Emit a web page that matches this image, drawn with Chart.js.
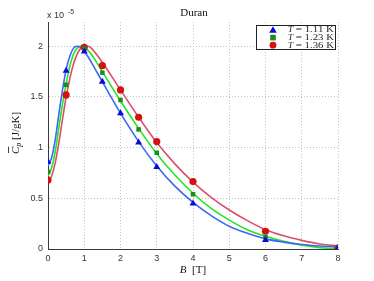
<!DOCTYPE html>
<html>
<head>
<meta charset="utf-8">
<script src="https://cdn.jsdelivr.net/npm/chart.js@4"></script>
<style>
  html, body { margin: 0; padding: 0; background: #fff; }
  #wrap { width: 374px; height: 281px; position: relative; }
</style>
</head>
<body>
<div id="wrap"><canvas id="chart"></canvas></div>
<script>
// fitted curves
const fitB = [0, 0.1, 0.2, 0.3, 0.4, 0.5, 0.6, 0.7, 0.8, 0.9, 1.0, 1.1, 1.2, 1.5, 2, 2.5, 3, 3.5, 4, 4.5, 5, 5.5, 6, 6.5, 7, 7.5, 8]
const fit111 = [0.82, 0.90, 1.08, 1.33, 1.57, 1.77, 1.90, 1.98, 2.00, 1.99, 1.95, 1.90, 1.84, 1.65, 1.34, 1.06, 0.82, 0.62, 0.46, 0.33, 0.225, 0.155, 0.10, 0.068, 0.045, 0.03, 0.02]
const fit123 = [0.72, 0.80, 0.96, 1.20, 1.43, 1.63, 1.80, 1.92, 1.98, 2.00, 1.99, 1.96, 1.92, 1.75, 1.46, 1.19, 0.94, 0.73, 0.55, 0.40, 0.285, 0.19, 0.125, 0.075, 0.038, 0.014, 0.002]
const fit136 = [0.66, 0.72, 0.85, 1.05, 1.28, 1.50, 1.68, 1.82, 1.92, 1.98, 2.00, 2.00, 1.98, 1.84, 1.57, 1.30, 1.05, 0.84, 0.66, 0.51, 0.385, 0.28, 0.19, 0.13, 0.085, 0.05, 0.03]

// measured points
const measB = [0, 0.5, 1, 1.5, 2, 2.5, 3, 4, 6, 8]
const meas111 = [0.86, 1.76, 1.95, 1.65, 1.34, 1.05, 0.81, 0.45, 0.09, 0.01]
const meas123 = [0.76, 1.62, 1.98, 1.74, 1.47, 1.18, 0.95, 0.54, 0.12, 0.005]
const meas136 = [0.68, 1.52, 1.99, 1.81, 1.57, 1.30, 1.06, 0.665, 0.175, 0.01]

const xTicks = [0, 1, 2, 3, 4, 5, 6, 7, 8]
const yTicks = [0, 0.5, 1, 1.5, 2]
const legendLabels = ["1.11", "1.23", "1.36"]

const pts = (xs, ys) => xs.map((x, i) => ({ x: x, y: ys[i] }))

const serif = "'Liberation Serif', 'DejaVu Serif', serif"
const sans = "'Liberation Sans', Arial, sans-serif"

const markers = [
  { style: "triangle", color: "#0a0ae0", radius: 4 },
  { style: "rect", color: "#1c8c1c", radius: 3.2 },
  { style: "circle", color: "#d61010", radius: 3.6 }
]

const decorations = {
  id: "decorations",
  afterDraw(chart) {
    const ctx = chart.ctx
    ctx.save()
    ctx.fillStyle = "#111"

    // title
    ctx.font = "11px " + serif
    ctx.textAlign = "center"
    ctx.textBaseline = "middle"
    ctx.fillText("Duran", 194, 13)

    // exponent
    ctx.fillStyle = "#333"
    ctx.font = "9px " + sans
    ctx.textAlign = "left"
    ctx.fillText("x 10", 47, 16)
    ctx.font = "7px " + sans
    ctx.fillText("-5", 68, 12)

    // x label
    ctx.fillStyle = "#111"
    ctx.font = "italic 11px " + serif
    const w1 = ctx.measureText("B").width
    ctx.font = "11px " + serif
    const w2 = ctx.measureText("  [T]").width
    const x0 = 193 - (w1 + w2) / 2
    ctx.font = "italic 11px " + serif
    ctx.fillText("B", x0, 270)
    ctx.font = "11px " + serif
    ctx.fillText("  [T]", x0 + w1, 270)

    // y label
    ctx.translate(16, 133)
    ctx.rotate(-Math.PI / 2)
    ctx.font = "italic 11px " + serif
    const wc = ctx.measureText("C").width
    ctx.font = "italic 8px " + serif
    const wp = ctx.measureText("p").width
    ctx.font = "11px " + serif
    const wr = ctx.measureText(" [J/gK]").width
    const sx = -(wc + wp + wr) / 2
    ctx.font = "italic 11px " + serif
    ctx.fillText("C", sx, 0)
    ctx.fillRect(sx + 1, -8, wc - 1, 0.8)
    ctx.font = "italic 8px " + serif
    ctx.fillText("p", sx + wc, 3)
    ctx.font = "11px " + serif
    ctx.fillText(" [J/gK]", sx + wc + wp, 0)
    ctx.restore()

    // legend box
    ctx.save()
    const bx = 256, by = 25.5, bw = 79, bh = 24
    ctx.fillStyle = "#fff"
    ctx.fillRect(bx, by, bw, bh)
    ctx.strokeStyle = "#222"
    ctx.lineWidth = 1
    ctx.strokeRect(bx + 0.5, by, bw, bh)
    legendLabels.forEach((t, i) => {
      const y = by + 4.5 + i * 7.6
      const m = markers[i]
      const mx = 273
      ctx.fillStyle = m.color
      ctx.beginPath()
      if (m.style === "triangle") {
        ctx.moveTo(mx, y - 3.8)
        ctx.lineTo(mx + 3.8, y + 2.8)
        ctx.lineTo(mx - 3.8, y + 2.8)
        ctx.closePath()
      } else if (m.style === "rect") {
        ctx.rect(mx - 2.8, y - 2.8, 5.6, 5.6)
      } else {
        ctx.arc(mx, y, 3.4, 0, Math.PI * 2)
      }
      ctx.fill()

      ctx.fillStyle = "#222"
      ctx.textBaseline = "middle"
      ctx.textAlign = "left"
      ctx.font = "italic 9px " + serif
      ctx.fillText("T", 288, y)
      const wt = ctx.measureText("T").width
      ctx.font = "9px " + serif
      const rest = " = " + t + " K"
      const wRest = ctx.measureText(rest).width
      const target = 334 - 288 - wt
      ctx.save()
      ctx.translate(288 + wt, y)
      ctx.scale(target / wRest, 1)
      ctx.fillText(rest, 0, 0)
      ctx.restore()
    })
    ctx.restore()
  }
}

const fitColors = ["#3d68f5", "#22e622", "#d9506b"]
const fits = [fit111, fit123, fit136]
const meas = [meas111, meas123, meas136]

const datasets = []
fits.forEach((f, i) => {
  datasets.push({
    type: "line",
    label: "fit " + legendLabels[i],
    data: pts(fitB, f),
    borderColor: fitColors[i],
    borderWidth: 1.6,
    pointRadius: 0,
    cubicInterpolationMode: "monotone",
    fill: false,
    order: 2
  })
})
meas.forEach((m, i) => {
  datasets.push({
    type: "scatter",
    label: "T = " + legendLabels[i] + " K",
    data: pts(measB, m),
    pointStyle: markers[i].style,
    pointRadius: markers[i].radius,
    backgroundColor: markers[i].color,
    borderColor: markers[i].color,
    borderWidth: 0,
    showLine: false,
    order: 1
  })
})

new Chart(document.getElementById("chart"), {
  type: "scatter",
  data: { datasets: datasets },
  options: {
    responsive: true,
    maintainAspectRatio: false,
    animation: false,
    layout: { padding: { top: 22, right: 36, left: 0, bottom: 0 } },
    plugins: {
      legend: { display: false },
      tooltip: { enabled: false },
      title: { display: false }
    },
    scales: {
      x: {
        type: "linear",
        min: 0,
        max: 8,
        afterFit: s => { s.height = 32 },
        afterBuildTicks: s => { s.ticks = xTicks.map(v => ({ value: v })) },
        grid: { color: "#c4c4c4", drawTicks: false, lineWidth: 1 },
        border: { display: true, color: "#3a3a3a", width: 1, dash: [1, 2] },
        ticks: {
          padding: 4,
          color: "#333",
          font: { family: sans, size: 9 },
          maxRotation: 0
        }
      },
      y: {
        type: "linear",
        min: 0,
        max: 2.24,
        afterFit: s => { s.width = 48 },
        afterBuildTicks: s => { s.ticks = yTicks.map(v => ({ value: v })) },
        grid: { color: "#c4c4c4", drawTicks: false, lineWidth: 1 },
        border: { display: true, color: "#3a3a3a", width: 1, dash: [1, 2] },
        ticks: {
          padding: 5,
          color: "#333",
          font: { family: sans, size: 9 },
          callback: v => String(v)
        }
      }
    }
  },
  plugins: [decorations]
})
</script>
</body>
</html>
